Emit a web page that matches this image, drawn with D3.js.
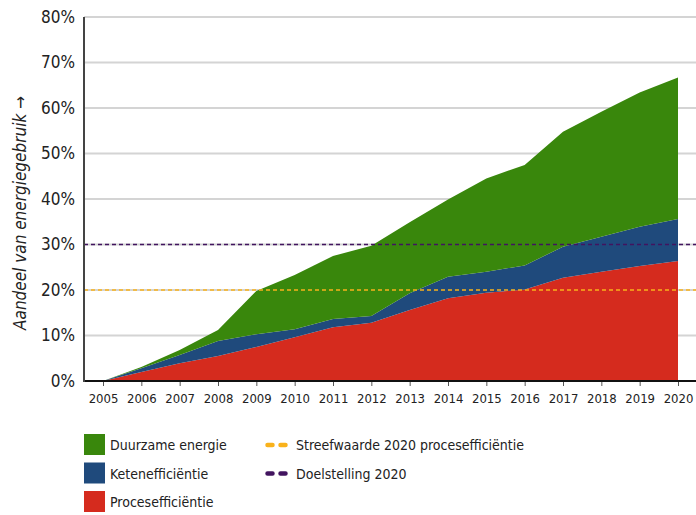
<!DOCTYPE html>
<html>
<head>
<meta charset="utf-8">
<script src="https://cdn.jsdelivr.net/npm/d3@7"></script>
<style>
  html, body { margin: 0; padding: 0; background: #fff; }
  svg { display: block; }
  text { font-family: "Liberation Sans Narrow", "DejaVu Sans Condensed", sans-serif; fill: #222; }
</style>
</head>
<body>
<svg id="chart" width="696" height="515"></svg>
<script>
// Years on the x axis
const years = [2005, 2006, 2007, 2008, 2009, 2010, 2011, 2012, 2013, 2014, 2015, 2016, 2017, 2018, 2019, 2020];

// Share of energy use (%) per component, stacked bottom to top
const procesefficientie = [0, 2.0, 3.9, 5.5, 7.5, 9.6, 11.8, 12.8, 15.6, 18.2, 19.4, 20.1, 22.7, 24.0, 25.3, 26.4];
const ketenefficientie  = [0, 0.8, 1.8, 3.3, 2.8, 1.8, 1.8, 1.5, 3.7, 4.7, 4.6, 5.3, 6.8, 7.7, 8.6, 9.2];
const duurzameEnergie   = [0, 0.3, 1.1, 2.4, 9.5, 11.9, 13.9, 15.4, 15.6, 17.0, 20.5, 22.1, 25.3, 27.5, 29.5, 31.1];

// Reference levels (%)
const streefwaardeProces = 20;
const doelstelling2020 = 30;

const yTicks = [0, 10, 20, 30, 40, 50, 60, 70, 80];

const seriesNames = ["Procesefficiëntie", "Ketenefficiëntie", "Duurzame energie"];
const seriesColors = { "Procesefficiëntie": "#d52b1e", "Ketenefficiëntie": "#1f4a7c", "Duurzame energie": "#39870c" };

const svg = d3.select("#chart");
const plotLeft = 84, plotRight = 696, plotTop = 17, plotBottom = 381;

const x = d3.scaleLinear().domain([2005, 2020]).range([103, 678]);
const y = d3.scaleLinear().domain([0, 80]).range([plotBottom, plotTop]);

// Gridlines
svg.append("g").selectAll("line").data(yTicks.filter(d => d > 0)).join("line")
  .attr("x1", plotLeft).attr("x2", plotRight)
  .attr("y1", d => y(d)).attr("y2", d => y(d))
  .attr("stroke", "#d4d4d4").attr("stroke-width", 2);

// Stacked areas
const rows = years.map((yr, i) => ({
  year: yr,
  "Procesefficiëntie": procesefficientie[i],
  "Ketenefficiëntie": ketenefficientie[i],
  "Duurzame energie": duurzameEnergie[i]
}));
const stack = d3.stack().keys(seriesNames)(rows);
const area = d3.area()
  .x(d => x(d.data.year))
  .y0(d => y(d[0]))
  .y1(d => y(d[1]));
svg.append("g").selectAll("path").data(stack).join("path")
  .attr("d", area)
  .attr("fill", d => seriesColors[d.key]);

// Reference lines
svg.append("line")
  .attr("x1", plotLeft).attr("x2", plotRight)
  .attr("y1", y(streefwaardeProces)).attr("y2", y(streefwaardeProces))
  .attr("stroke", "#f9b21b").attr("stroke-width", 1.5).attr("stroke-dasharray", "4,3");
svg.append("line")
  .attr("x1", plotLeft).attr("x2", plotRight)
  .attr("y1", y(doelstelling2020)).attr("y2", y(doelstelling2020))
  .attr("stroke", "#42145f").attr("stroke-width", 1.5).attr("stroke-dasharray", "4,3");

// X axis
const xAxis = d3.axisBottom(x).tickValues(years).tickFormat(d3.format("d")).tickSize(5).tickPadding(8);
const gx = svg.append("g").attr("transform", `translate(0,${plotBottom})`).call(xAxis);
gx.select(".domain").remove();
gx.selectAll(".tick line").attr("stroke", "#555");
gx.selectAll(".tick text").attr("font-size", 13).attr("font-family", null).attr("fill", "#222");
svg.append("line").attr("x1", plotLeft).attr("x2", plotRight).attr("y1", plotBottom).attr("y2", plotBottom)
  .attr("stroke", "#111").attr("stroke-width", 2);

// Y axis
const yAxis = d3.axisLeft(y).tickValues(yTicks).tickFormat(d => d + "%").tickSize(0).tickPadding(9);
const gy = svg.append("g").attr("transform", `translate(${plotLeft},0)`).call(yAxis);
gy.select(".domain").remove();
gy.selectAll(".tick text").attr("font-size", 17).attr("font-family", null).attr("fill", "#222");
svg.append("line").attr("x1", plotLeft).attr("x2", plotLeft).attr("y1", plotTop).attr("y2", plotBottom + 1)
  .attr("stroke", "#444").attr("stroke-width", 2);

// Y axis title
svg.append("text")
  .attr("transform", `translate(26,${(plotTop + plotBottom) / 2 + 14}) rotate(-90)`)
  .attr("text-anchor", "middle")
  .attr("font-size", 17).attr("font-style", "italic")
  .text("Aandeel van energiegebruik →");

// Legend
const legendAreas = ["Duurzame energie", "Ketenefficiëntie", "Procesefficiëntie"];
const lg = svg.append("g");
legendAreas.forEach((name, i) => {
  const yy = 434 + i * 28.5;
  lg.append("rect").attr("x", 84).attr("y", yy).attr("width", 21).attr("height", 21)
    .attr("fill", seriesColors[name]);
  lg.append("text").attr("x", 110).attr("y", yy + 16).attr("font-size", 14).text(name);
});
const legendLines = [
  { name: "Streefwaarde 2020 procesefficiëntie", color: "#f9b21b" },
  { name: "Doelstelling 2020", color: "#42145f" }
];
legendLines.forEach((d, i) => {
  const yy = 445 + i * 28.5;
  lg.append("line").attr("x1", 267.5).attr("x2", 285.5).attr("y1", yy).attr("y2", yy)
    .attr("stroke", d.color).attr("stroke-width", 4.5).attr("stroke-linecap", "round")
    .attr("stroke-dasharray", "5,8");
  lg.append("text").attr("x", 296).attr("y", yy + 5).attr("font-size", 14).text(d.name);
});
</script>
</body>
</html>
